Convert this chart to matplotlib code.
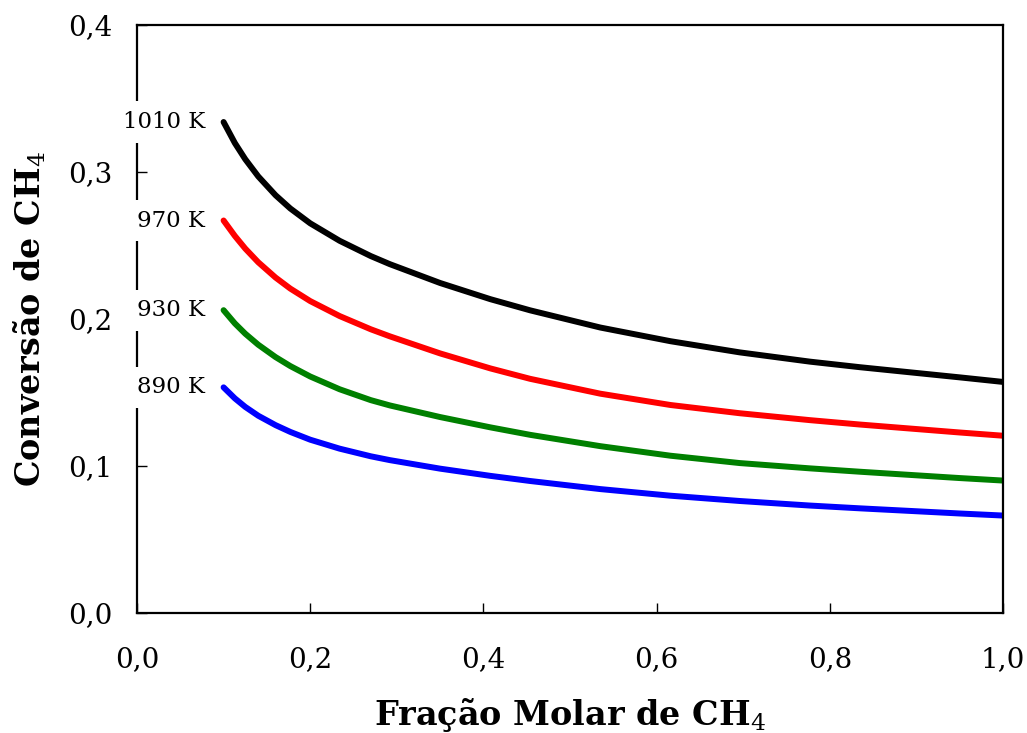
import matplotlib
matplotlib.use("Agg")
import matplotlib.pyplot as plt

# fração molar de CH4 (eixo x)
x_frac = [0.10, 0.113, 0.125, 0.14, 0.16, 0.177, 0.20, 0.234, 0.27, 0.292,
          0.35, 0.408, 0.454, 0.535, 0.616, 0.696, 0.777, 0.835, 0.95, 1.00]

# conversão de CH4 para cada temperatura
conv_1010 = [0.334, 0.3197, 0.3087, 0.297, 0.2842, 0.2752, 0.2651, 0.2532, 0.2428, 0.2373,
             0.2245, 0.2135, 0.2059, 0.1942, 0.1849, 0.1773, 0.171, 0.1672, 0.1603, 0.1572]
conv_970 = [0.267, 0.2565, 0.2479, 0.2386, 0.2282, 0.2207, 0.2122, 0.202, 0.193, 0.1882,
            0.1766, 0.1664, 0.1593, 0.1492, 0.1415, 0.1359, 0.1312, 0.1282, 0.1228, 0.1206]
conv_930 = [0.206, 0.197, 0.190, 0.1825, 0.1741, 0.168, 0.1609, 0.1522, 0.1448, 0.1412,
            0.1333, 0.1263, 0.1212, 0.1135, 0.107, 0.102, 0.0984, 0.0961, 0.0918, 0.0901]
conv_890 = [0.1535, 0.146, 0.1402, 0.1342, 0.1278, 0.1232, 0.1179, 0.1118, 0.1066, 0.104,
            0.0982, 0.0933, 0.0898, 0.0843, 0.0798, 0.0762, 0.0731, 0.0712, 0.0677, 0.0663]

series = [
    ("1010 K", conv_1010, "black"),
    ("970 K", conv_970, "red"),
    ("930 K", conv_930, "green"),
    ("890 K", conv_890, "blue"),
]

x_ticks = [0.0, 0.2, 0.4, 0.6, 0.8, 1.0]
y_ticks = [0.0, 0.1, 0.2, 0.3, 0.4]

plt.rcParams["font.family"] = "DejaVu Serif"
plt.rcParams["mathtext.fontset"] = "dejavuserif"

fig = plt.figure(figsize=(10.27, 7.33), dpi=100)
ax = fig.add_axes([0.1334, 0.1637, 0.8432, 0.8022])

for label, y, color in series:
    ax.plot(x_frac, y, color=color, lw=4.3, solid_capstyle="round", solid_joinstyle="round")
    ax.text(0.0785, y[0], label, ha="right", va="center", fontsize=16.5,
            clip_on=False, zorder=5,
            bbox=dict(facecolor="white", edgecolor="none", pad=7))

ax.set_xlim(0, 1)
ax.set_ylim(0, 0.4)
ax.set_xticks(x_ticks)
ax.set_yticks(y_ticks)
ax.set_xticklabels([f"{v:.1f}".replace(".", ",") for v in x_ticks])
ax.set_yticklabels([f"{v:.1f}".replace(".", ",") for v in y_ticks])
ax.tick_params(direction="in", length=7, width=1, labelsize=20)
ax.tick_params(axis="x", pad=24)
ax.tick_params(axis="y", pad=18)
for s in ax.spines.values():
    s.set_linewidth(1.6)

ax.set_xlabel(r"Fração Molar de CH$_4$", fontsize=24, fontweight="bold", labelpad=16)
ax.set_ylabel(r"Conversão de CH$_4$", fontsize=24, fontweight="bold", labelpad=14)

fig.savefig("out.png", dpi=100)
